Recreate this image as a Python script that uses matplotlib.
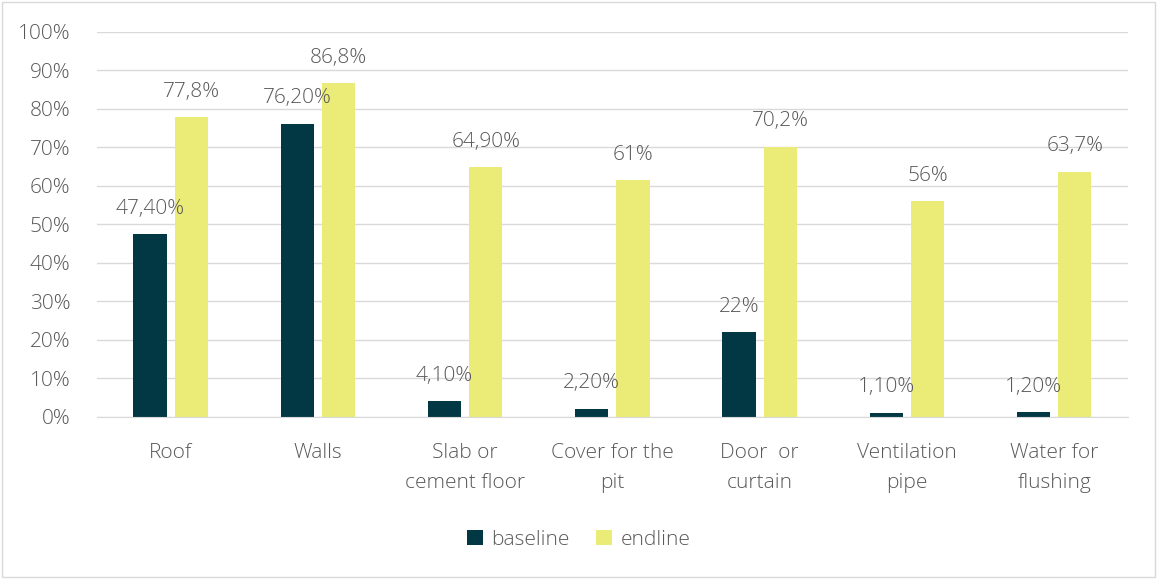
import numpy as np
import matplotlib.pyplot as plt
from matplotlib.patches import Rectangle

plt.rcParams['font.family'] = ['Open Sans', 'DejaVu Sans']
plt.rcParams['font.weight'] = 'light'

# Datos
categorias = ["Roof", "Walls", "Slab or\ncement floor", "Cover for the\npit",
              "Door  or\ncurtain", "Ventilation\npipe", "Water for\nflushing"]
baseline = [47.4, 76.2, 4.1, 2.2, 22.0, 1.1, 1.2]
endline = [77.8, 86.8, 64.9, 61.5, 70.2, 56.0, 63.7]
etiq_base = ["47,40%", "76,20%", "4,10%", "2,20%", "22%", "1,10%", "1,20%"]
etiq_end = ["77,8%", "86,8%", "64,90%", "61%", "70,2%", "56%", "63,7%"]

c_base = "#023843"
c_end = "#EAEC77"
gris = "#595959"
fs = 15

fig = plt.figure(figsize=(11.57, 5.79), dpi=100)
ax = fig.add_axes([0.0838, 0.2798, 0.891, 0.665])

x = np.arange(len(categorias))
w = 0.225
ax.bar(x - 0.14, baseline, w, color=c_base, label="baseline", zorder=3)
ax.bar(x + 0.14, endline, w, color=c_end, label="endline", zorder=3)

for i in range(len(x)):
    ax.annotate(etiq_base[i], (x[i] - 0.14, baseline[i]), xytext=(0, 11),
                textcoords="offset points", ha="center", va="bottom",
                fontsize=fs, color=gris)
    ax.annotate(etiq_end[i], (x[i] + 0.14, endline[i]), xytext=(0, 11),
                textcoords="offset points", ha="center", va="bottom",
                fontsize=fs, color=gris)

ax.set_xlim(-0.5, len(x) - 0.5)
ax.set_ylim(0, 100)
ax.set_yticks(np.arange(0, 101, 10))
ax.set_yticklabels([f"{v}%" for v in range(0, 101, 10)])
ax.set_xticks(x)
ax.set_xticklabels(categorias, linespacing=1.65)
ax.tick_params(axis="both", length=0, labelsize=fs, labelcolor=gris)
ax.tick_params(axis="x", pad=19)
ax.tick_params(axis="y", pad=19)
ax.grid(axis="y", color="#d9d9d9", linewidth=1, zorder=0)
for s in ["top", "right", "left"]:
    ax.spines[s].set_visible(False)
ax.spines["bottom"].set_color("#d9d9d9")
ax.spines["bottom"].set_zorder(4)

fig.legend(loc="center", bbox_to_anchor=(0.5, 0.068), ncol=2, frameon=False,
           fontsize=fs, labelcolor=gris, handlelength=0.75, handleheight=0.75,
           columnspacing=1.3, handletextpad=0.4)

fig.patches.append(Rectangle((0.002, 0.003), 0.996, 0.994, transform=fig.transFigure,
                             fill=False, edgecolor="#d9d9d9", linewidth=1))

plt.savefig("out.png", dpi=100)
